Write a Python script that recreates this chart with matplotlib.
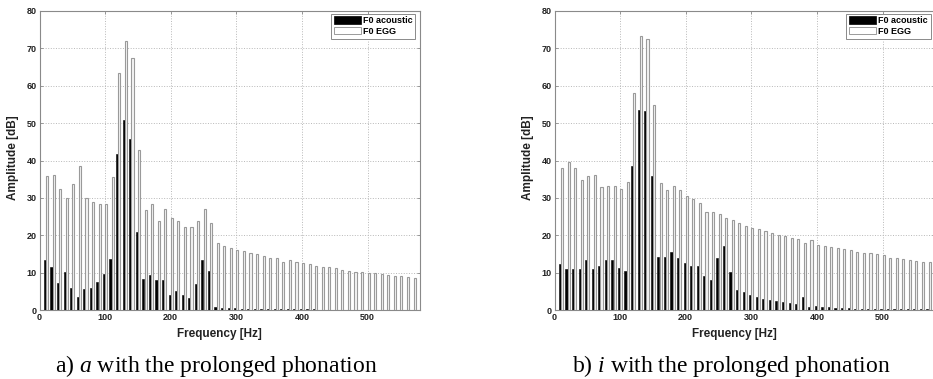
import numpy as np
import matplotlib
matplotlib.use('Agg')
import matplotlib.pyplot as plt
from matplotlib.patches import Patch

# Harmonic frequencies (Hz)
freqs = np.arange(10, 580, 10)

# a) vowel "a", prolonged phonation
a_acoustic = [13.3, 11.4, 7.2, 10.1, 5.9, 3.5, 5.6, 5.9, 7.5, 9.6,
              13.6, 41.8, 50.8, 45.7, 21.0, 8.4, 9.4, 7.9, 7.9, 4.1,
              5.1, 4.1, 3.3, 6.9, 13.5, 10.5,
              0.7, 0.6, 0.5, 0.6, 0.4, 0.4, 0.3, 0.3, 0.3, 0.4,
              0.2, 0.3, 0.2, 0.2, 0.2, 0.2, 0.1, 0.1, 0.1,
              0.1, 0.1, 0.1, 0.1, 0.1, 0.1, 0.1, 0.1, 0.1, 0.1, 0.1, 0.1]
a_egg = [35.8, 36.0, 32.5, 30.0, 33.7, 38.5, 30.0, 28.9, 28.4, 28.3,
         35.5, 63.3, 72.1, 67.5, 42.7, 26.8, 28.3, 23.8, 26.9, 24.6,
         23.8, 22.1, 22.1, 23.8, 27.0, 23.2,
         17.8, 17.2, 16.6, 16.1, 15.7, 15.2, 14.9, 14.4, 14.0, 14.0,
         12.8, 13.5, 12.8, 12.5, 12.2, 11.8, 11.6, 11.4, 11.2, 10.8,
         10.5, 10.3, 10.3, 10.0, 9.8, 9.5, 9.4, 9.2, 9.0, 8.8, 8.6]

# b) vowel "i", prolonged phonation
i_acoustic = [12.2, 10.9, 11.0, 10.9, 13.3, 11.0, 11.8, 13.5, 13.5, 11.2,
              10.5, 38.5, 53.6, 53.3, 35.8, 14.3, 14.2, 15.6, 13.9, 12.5,
              11.8, 11.7,
              9.0, 8.1, 14.0, 17.2, 10.2, 5.4, 4.7, 4.0, 3.4, 3.0,
              2.8, 2.4, 2.1, 1.9, 1.7, 3.4, 0.8, 1.2, 0.9, 0.7,
              0.6, 0.5, 0.5, 0.4, 0.4, 0.35, 0.3, 0.3, 0.3,
              0.2, 0.2, 0.2, 0.2, 0.2, 0.2]
i_egg = [38.1, 39.6, 37.9, 34.9, 35.8, 36.0, 33.0, 33.1, 33.3, 32.3,
         34.2, 58.1, 73.2, 72.6, 54.9, 33.9, 32.0, 33.1, 32.2, 30.5,
         29.7, 28.6,
         26.2, 26.2, 25.8, 24.6, 24.0, 23.2, 22.6, 22.0, 21.6, 21.1,
         20.6, 20.0, 19.7, 19.3, 18.9, 17.8, 18.6, 17.3, 17.1, 16.9,
         16.6, 16.2, 16.0, 15.6, 15.3, 15.2, 14.9, 14.7, 14.0, 14.0,
         13.7, 13.5, 13.2, 12.9, 12.8]

series_labels = ['F0 acoustic', 'F0 EGG']
captions = [('a)', 'a'), ('b)', 'i')]
xticks = [0, 100, 200, 300, 400, 500]
yticks = [0, 10, 20, 30, 40, 50, 60, 70, 80]

plt.rcParams['mathtext.fontset'] = 'custom'
plt.rcParams['mathtext.rm'] = 'Liberation Serif'
plt.rcParams['mathtext.it'] = 'Liberation Serif:italic'

W, H = 933, 379
fig = plt.figure(figsize=(W / 100, H / 100), dpi=100)

EDGE = '#8a8a8a'
BAR_EDGE = '#9a9a9a'
bar_w = 3.2
off = 1.7


def draw_panel(left_px, acoustic, egg, caption):
    ax = fig.add_axes([left_px / W, (H - 310) / H, 380.5 / W, 299 / H])
    ax.bar(freqs - off, acoustic, width=bar_w, color='black',
           edgecolor='black', linewidth=0.4, zorder=3)
    ax.bar(freqs + off, egg, width=bar_w, facecolor='#f4f4f4',
           edgecolor=BAR_EDGE, linewidth=0.8, zorder=3)

    ax.set_xlim(0, 580)
    ax.set_ylim(0, 80)
    ax.set_xticks(xticks)
    ax.set_yticks(yticks)
    ax.grid(True, linestyle=':', color='#b8b8b8', linewidth=0.7, zorder=0)
    for s in ax.spines.values():
        s.set_color(EDGE)
        s.set_linewidth(0.8)
    ax.tick_params(direction='in', length=2.5, width=0.6, color=EDGE,
                   top=True, right=True, labelsize=6.5, pad=2,
                   labelcolor='#222222')
    for lab in ax.get_xticklabels() + ax.get_yticklabels():
        lab.set_fontfamily('Liberation Sans')
        lab.set_fontweight('bold')

    ax.text(0.474, -0.08, 'Frequency [Hz]', transform=ax.transAxes,
            ha='center', va='center', fontsize=8.5, fontweight='bold',
            family='Liberation Sans', color='#222222')
    ax.text(-26 / 380.5, 0.51, 'Amplitude [dB]', transform=ax.transAxes,
            ha='center', va='center', rotation=90, fontsize=8.5,
            fontweight='bold', family='Liberation Sans', color='#222222')

    handles = [Patch(facecolor='black', edgecolor='black', linewidth=0.5),
               Patch(facecolor='white', edgecolor=BAR_EDGE, linewidth=0.7)]
    leg = ax.legend(handles, series_labels, loc='upper right',
                    bbox_to_anchor=(1 - 4.5 / 380.5, 1 - 2.5 / 299),
                    borderaxespad=0, fancybox=False, framealpha=1,
                    edgecolor=EDGE, handlelength=3.0, handleheight=0.85,
                    handletextpad=0.25, labelspacing=0.2, borderpad=0.3,
                    prop={'family': 'Liberation Sans', 'weight': 'bold',
                          'size': 6.5})
    leg.get_frame().set_linewidth(0.7)

    tag, letter = caption
    fig.text((left_px + 0.465 * 380.5) / W, 1 - 366 / H,
             f'{tag} $\\mathit{{{letter}}}$ with the prolonged phonation',
             ha='center', va='center', fontsize=17,
             family='Liberation Serif', color='black')
    return ax


draw_panel(39.5, a_acoustic, a_egg, captions[0])
draw_panel(554.5, i_acoustic, i_egg, captions[1])

fig.savefig('out.png', dpi=100)
